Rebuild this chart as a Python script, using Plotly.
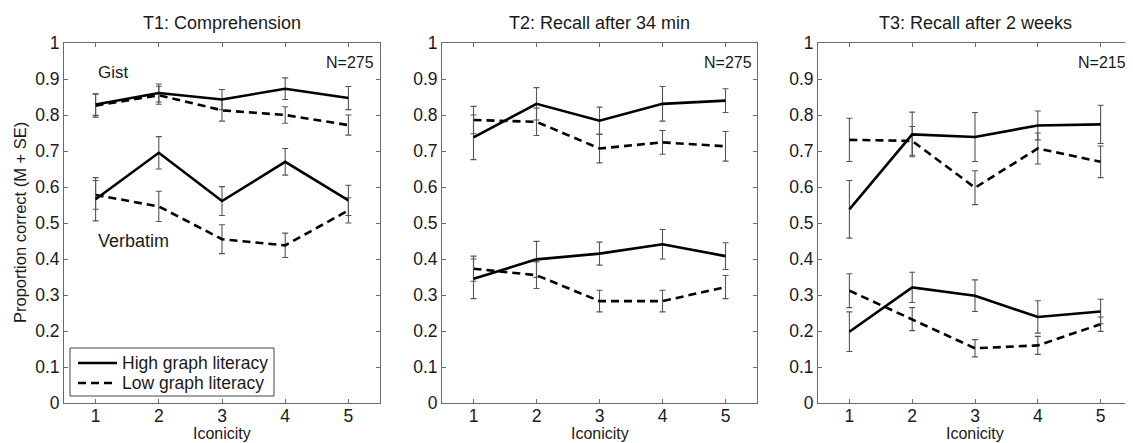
import plotly.graph_objects as go

x = [1, 2, 3, 4, 5]
panel_titles = ["T1: Comprehension", "T2: Recall after 34 min", "T3: Recall after 2 weeks"]
n_labels = ["N=275", "N=275", "N=215"]
y_ticks = [0, 0.1, 0.2, 0.3, 0.4, 0.5, 0.6, 0.7, 0.8, 0.9, 1]
y_ticktext = ["0", "0.1", "0.2", "0.3", "0.4", "0.5", "0.6", "0.7", "0.8", "0.9", "1"]
legend_names = ["High graph literacy", "Low graph literacy"]

# T1
t1_gist_high = [0.829, 0.861, 0.843, 0.873, 0.847]
t1_gist_high_se = [0.030, 0.025, 0.028, 0.030, 0.032]
t1_gist_low = [0.826, 0.855, 0.813, 0.800, 0.772]
t1_gist_low_se = [0.032, 0.025, 0.030, 0.023, 0.028]
t1_verb_high = [0.566, 0.695, 0.561, 0.670, 0.563]
t1_verb_high_se = [0.060, 0.045, 0.040, 0.037, 0.042]
t1_verb_low = [0.578, 0.546, 0.455, 0.438, 0.535]
t1_verb_low_se = [0.040, 0.042, 0.040, 0.034, 0.035]

# T2
t2_gist_high = [0.738, 0.831, 0.784, 0.831, 0.840]
t2_gist_high_se = [0.062, 0.045, 0.038, 0.048, 0.033]
t2_gist_low = [0.786, 0.781, 0.707, 0.724, 0.713]
t2_gist_low_se = [0.038, 0.038, 0.040, 0.033, 0.041]
t2_verb_high = [0.345, 0.399, 0.415, 0.441, 0.408]
t2_verb_high_se = [0.055, 0.050, 0.032, 0.041, 0.037]
t2_verb_low = [0.373, 0.355, 0.283, 0.283, 0.322]
t2_verb_low_se = [0.035, 0.037, 0.030, 0.030, 0.032]

# T3
t3_gist_high = [0.538, 0.746, 0.739, 0.771, 0.774]
t3_gist_high_se = [0.080, 0.062, 0.068, 0.040, 0.053]
t3_gist_low = [0.731, 0.728, 0.598, 0.707, 0.670]
t3_gist_low_se = [0.060, 0.040, 0.047, 0.043, 0.044]
t3_verb_high = [0.198, 0.321, 0.298, 0.239, 0.254]
t3_verb_high_se = [0.055, 0.042, 0.044, 0.045, 0.034]
t3_verb_low = [0.312, 0.233, 0.152, 0.160, 0.219]
t3_verb_low_se = [0.047, 0.032, 0.024, 0.025, 0.020]

FONT = "Liberation Sans, Arial, Helvetica, sans-serif"
TXT = "#1a1a1a"
AX = "#6a6a6a"
DASH = "8px,5px"

panels = [
    (t1_gist_high, t1_gist_high_se, t1_gist_low, t1_gist_low_se,
     t1_verb_high, t1_verb_high_se, t1_verb_low, t1_verb_low_se),
    (t2_gist_high, t2_gist_high_se, t2_gist_low, t2_gist_low_se,
     t2_verb_high, t2_verb_high_se, t2_verb_low, t2_verb_low_se),
    (t3_gist_high, t3_gist_high_se, t3_gist_low, t3_gist_low_se,
     t3_verb_high, t3_verb_high_se, t3_verb_low, t3_verb_low_se),
]

# The page body has an 8px default margin; lay out in page pixels and shift.
OFF = 8
PAGE_W, PAGE_H = 1133, 443
W, H = PAGE_W - OFF, PAGE_H - OFF
PLOT_LEFT, PLOT_RIGHT, PLOT_TOP, PLOT_BOTTOM = 64, 1132, 43, 403   # page px
L = PLOT_LEFT - OFF
R = W - (PLOT_RIGHT - OFF)
T = PLOT_TOP - OFF
B = H - (PLOT_BOTTOM - OFF)
pw = PLOT_RIGHT - PLOT_LEFT
ph = PLOT_BOTTOM - PLOT_TOP

def pxx(X):
    return (X - PLOT_LEFT) / pw

def pxy(Y):
    return (PLOT_BOTTOM - Y) / ph

fig = go.Figure()

def add_series(i, y, se, dash, name):
    xa = "x" if i == 0 else f"x{i+1}"
    ya = "y" if i == 0 else f"y{i+1}"
    fig.add_trace(go.Scatter(
        x=x, y=y, xaxis=xa, yaxis=ya, mode="lines",
        name=name, showlegend=False,
        line=dict(color="black", width=2.6, dash=dash),
        error_y=dict(type="data", array=se, visible=True,
                     color="#555555", thickness=1.1, width=3),
    ))

for i, (gh, ghs, gl, gls, vh, vhs, vl, vls) in enumerate(panels):
    add_series(i, gl, gls, DASH, legend_names[1])
    add_series(i, vl, vls, DASH, legend_names[1])
    add_series(i, gh, ghs, "solid", legend_names[0])
    add_series(i, vh, vhs, "solid", legend_names[0])

panel_px = [(64, 380), (442, 757), (818, 1132)]
domains = [[max(0.0, pxx(a)), min(1.0, pxx(b))] for a, b in panel_px]

axis_common = dict(
    showline=True, linecolor=AX, linewidth=1, mirror="ticks",
    ticks="inside", ticklen=4, tickcolor=AX, tickwidth=1,
    showgrid=False, zeroline=False, automargin=False,
    tickfont=dict(family=FONT, size=17.5, color=TXT),
)

layout = dict(
    width=W, height=H,
    margin=dict(l=L, r=R, t=T, b=B, autoexpand=False),
    paper_bgcolor="white", plot_bgcolor="white",
    font=dict(family=FONT, size=18, color=TXT),
    showlegend=False,
)
for i in range(3):
    k = "" if i == 0 else str(i + 1)
    layout["xaxis" + k] = dict(axis_common, domain=domains[i], range=[0.5, 5.5],
                               tickvals=x, anchor="y" + k, ticklabelstandoff=-3)
    layout["yaxis" + k] = dict(axis_common, domain=[0, 1], range=[0, 1],
                               tickvals=y_ticks, ticktext=y_ticktext, anchor="x" + k)
fig.update_layout(**layout)

ann = []
n_x = [5.44, 5.46, 5.43]
for i in range(3):
    k = "" if i == 0 else str(i + 1)
    cx = (panel_px[i][0] + panel_px[i][1]) / 2
    ann.append(dict(xref="paper", yref="paper", x=pxx(cx), y=pxy(23),
                    text=panel_titles[i], showarrow=False, xanchor="center", yanchor="middle",
                    font=dict(family=FONT, size=18, color=TXT)))
    ann.append(dict(xref="x" + k, yref="y" + k, x=n_x[i], y=0.945, text=n_labels[i],
                    showarrow=False, xanchor="right", yanchor="middle",
                    font=dict(family=FONT, size=16, color=TXT)))
    ann.append(dict(xref="paper", yref="paper", x=pxx(cx), y=pxy(444),
                    text="Iconicity", showarrow=False, xanchor="center", yanchor="bottom",
                    font=dict(family=FONT, size=16, color=TXT)))

ann.append(dict(xref="x", yref="y", x=1.0, y=0.918, text="Gist", showarrow=False,
                xanchor="left", yanchor="middle", font=dict(family=FONT, size=17, color=TXT)))
ann.append(dict(xref="x", yref="y", x=1.0, y=0.45, text="Verbatim", showarrow=False,
                xanchor="left", yanchor="middle", font=dict(family=FONT, size=18, color=TXT)))
ann.append(dict(xref="paper", yref="paper", x=pxx(20), y=0.5,
                text="Proportion correct (M + SE)", textangle=-90, showarrow=False,
                xanchor="center", yanchor="middle", font=dict(family=FONT, size=16.5, color=TXT)))

# Legend box (drawn as in the reference, inside panel 1)
LEG_L, LEG_R, LEG_T, LEG_B = 70, 274, 348, 396
leg_rows = [363, 383]
leg_dash = ["solid", DASH]
shapes = [dict(type="rect", xref="paper", yref="paper",
               x0=pxx(LEG_L), x1=pxx(LEG_R), y0=pxy(LEG_B), y1=pxy(LEG_T),
               line=dict(color="#444444", width=1), fillcolor="white", layer="above")]
for row, dsh, name in zip(leg_rows, leg_dash, legend_names):
    shapes.append(dict(type="line", xref="paper", yref="paper",
                       x0=pxx(78), x1=pxx(117), y0=pxy(row), y1=pxy(row),
                       line=dict(color="black", width=2.6, dash=dsh), layer="above"))
    ann.append(dict(xref="paper", yref="paper", x=pxx(120), y=pxy(row), text=name,
                    showarrow=False, xanchor="left", yanchor="middle",
                    font=dict(family=FONT, size=17.5, color=TXT)))

fig.update_layout(annotations=ann, shapes=shapes)

fig.write_html("out.html")
